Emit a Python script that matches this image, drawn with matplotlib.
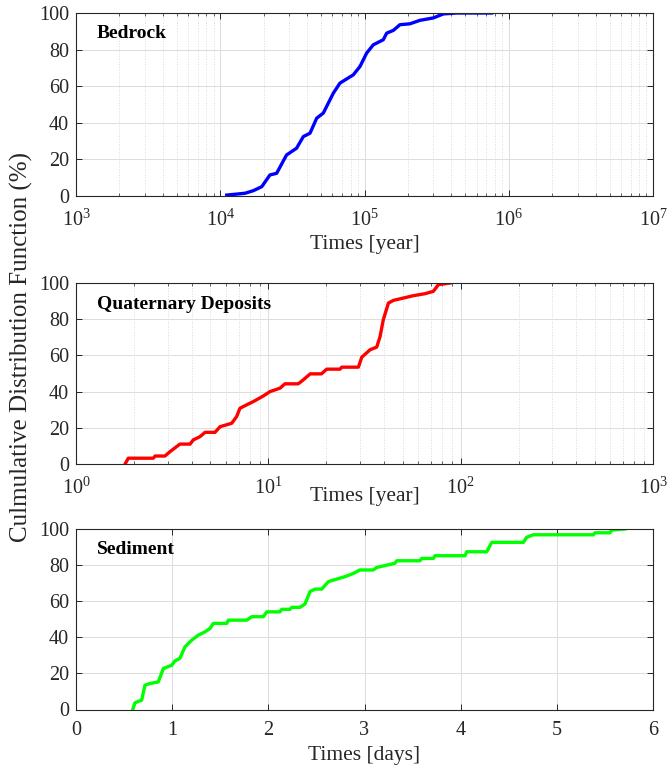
import matplotlib
matplotlib.use("Agg")
import matplotlib.pyplot as plt
from matplotlib.ticker import LogLocator, FixedLocator, NullFormatter

plt.rcParams["font.family"] = ["Liberation Serif", "DejaVu Serif"]
plt.rcParams["mathtext.fontset"] = "custom"
plt.rcParams["mathtext.rm"] = "Liberation Serif"
plt.rcParams["mathtext.it"] = "Liberation Serif:italic"
plt.rcParams["mathtext.bf"] = "Liberation Serif:bold"

# Bedrock travel times [year] and cumulative distribution [%]
bedrock_t = [11090, 14840, 16950, 19400, 22100, 24600, 28800, 33800, 37700,
             41900, 46600, 51800, 60800, 67600, 83600, 93100, 103500, 115000,
             135000, 142500, 158500, 176000, 206500, 242500, 300000, 352000,
             435000, 760000]
bedrock_cdf = [0.5, 1.5, 2.9, 5.1, 11.5, 12.4, 22.4, 26.1, 32.5, 34.3, 42.5,
               45.3, 56.2, 61.7, 66.2, 70.8, 78.1, 82.6, 85.4, 89.0, 90.5,
               93.6, 94.1, 96.0, 97.3, 99.5, 100.0, 100.0]

# Quaternary deposits travel times [year] and cumulative distribution [%]
quat_t = [1.80, 1.87, 2.52, 2.58, 2.90, 3.08, 3.47, 3.92, 4.07, 4.41, 4.69,
          5.28, 5.61, 6.45, 6.84, 7.12, 7.72, 8.36, 9.42, 10.2, 11.5, 12.2,
          14.3, 15.2, 16.5, 18.9, 20.1, 23.6, 24.1, 29.4, 30.6, 33.8, 36.6,
          38.1, 39.6, 42.1, 44.7, 50.4, 56.8, 65.3, 72.1, 76.6, 88.1]
quat_cdf = [0.0, 3.2, 3.2, 4.4, 4.4, 6.8, 11.0, 11.0, 13.3, 15.1, 17.5, 17.5,
            20.6, 22.5, 26.2, 30.8, 32.7, 34.5, 37.6, 40.0, 41.9, 44.3, 44.3,
            46.5, 49.8, 49.8, 52.4, 52.4, 53.5, 53.5, 59.0, 63.1, 64.6, 70.4,
            79.7, 88.9, 90.4, 91.7, 93.0, 94.1, 95.4, 99.1, 100.0]

# Sediment travel times [days] and cumulative distribution [%]
sed_t = [0.59, 0.613, 0.683, 0.717, 0.77, 0.856, 0.908, 0.995, 1.03, 1.08,
         1.133, 1.203, 1.272, 1.341, 1.393, 1.428, 1.567, 1.584, 1.775, 1.827,
         1.948, 1.983, 2.121, 2.139, 2.225, 2.243, 2.329, 2.381, 2.433, 2.485,
         2.555, 2.624, 2.676, 2.797, 2.884, 2.953, 3.092, 3.127, 3.317, 3.335,
         3.577, 3.595, 3.716, 3.733, 4.045, 4.063, 4.271, 4.323, 4.652, 4.686,
         4.756, 5.379, 5.397, 5.553, 5.570, 5.709]
sed_cdf = [0.0, 3.7, 5.2, 13.5, 14.4, 15.3, 22.7, 24.5, 27.0, 28.3, 34.7,
           38.4, 41.2, 43.0, 44.9, 47.7, 47.7, 49.5, 49.5, 51.4, 51.4, 54.1,
           54.1, 55.5, 55.5, 56.6, 56.6, 58.4, 65.3, 66.7, 66.7, 70.8, 71.7,
           73.6, 75.4, 77.3, 77.3, 78.7, 81.0, 82.4, 82.4, 83.7, 83.7, 85.2,
           85.2, 87.4, 87.4, 92.6, 92.6, 95.4, 96.8, 96.8, 97.9, 97.9, 99.4,
           100.0]

y_ticks = [0, 20, 40, 60, 80, 100]

SPINE = "#262626"
GRID = "#dcdcdc"
W, H = 669, 766

fig = plt.figure(figsize=(W / 100, H / 100), dpi=100)


def make_axes(top_px, bottom_px):
    left, right = 76, 653
    return fig.add_axes([left / W, 1 - bottom_px / H,
                         (right - left) / W, (bottom_px - top_px) / H])


def style(ax, log, xpad):
    for s in ax.spines.values():
        s.set_color(SPINE)
        s.set_linewidth(0.8)
    ax.set_ylim(0, 100)
    ax.yaxis.set_major_locator(FixedLocator(y_ticks))
    ax.tick_params(which="both", direction="in", top=True, right=True,
                   colors=SPINE, labelcolor="#262626", labelsize=14.5)
    ax.tick_params(which="major", length=4, width=0.7)
    ax.tick_params(axis="x", which="major", pad=xpad)
    ax.tick_params(axis="y", which="major", pad=5)
    ax.grid(True, which="major", color=GRID, linewidth=0.7, linestyle="-")
    if log:
        ax.xaxis.set_major_locator(LogLocator(base=10, numticks=20))
        ax.xaxis.set_minor_locator(LogLocator(base=10, subs=range(2, 10),
                                              numticks=100))
        ax.xaxis.set_minor_formatter(NullFormatter())
        ax.tick_params(which="minor", length=2.5, width=0.5)
        ax.grid(True, which="minor", axis="x", color=GRID, linewidth=0.7,
                linestyle=":")
    ax.set_axisbelow(True)


# Bedrock
ax1 = make_axes(13, 196)
ax1.set_xscale("log")
ax1.set_xlim(1e3, 1e7)
style(ax1, True, 10)
ax1.plot(bedrock_t, bedrock_cdf, color=(0, 0, 1), linewidth=2.4)
ax1.text(0.036, 0.89, "Bedrock", transform=ax1.transAxes, fontsize=14,
         fontweight="bold", va="center", ha="left")
ax1.set_xlabel("Times [year]", fontsize=15.5, color="#262626")
ax1.xaxis.set_label_coords(0.5, -0.215)

# Quaternary deposits
ax2 = make_axes(283, 464)
ax2.set_xscale("log")
ax2.set_xlim(1e0, 1e3)
style(ax2, True, 10)
ax2.plot(quat_t, quat_cdf, color=(1, 0, 0), linewidth=2.4)
ax2.text(0.036, 0.88, "Quaternary Deposits", transform=ax2.transAxes,
         fontsize=14, fontweight="bold", va="center", ha="left")
ax2.set_xlabel("Times [year]", fontsize=15.5, color="#262626")
ax2.xaxis.set_label_coords(0.5, -0.125)

# Sediment
ax3 = make_axes(529, 709.5)
ax3.set_xlim(0, 6)
style(ax3, False, 8)
ax3.plot(sed_t, sed_cdf, color=(0, 1, 0), linewidth=2.4)
ax3.text(0.036, 0.884, "Sediment", transform=ax3.transAxes, fontsize=14,
         fontweight="bold", va="center", ha="left")
ax3.set_xlabel("Times [days]", fontsize=15.5, color="#262626")
ax3.xaxis.set_label_coords(0.5, -0.2)

fig.text(0.032, 0.547, "Culmulative Distribution Function (%)", rotation=90,
         fontsize=18, color="#262626", va="center", ha="center")

fig.savefig("out.png", dpi=100)
